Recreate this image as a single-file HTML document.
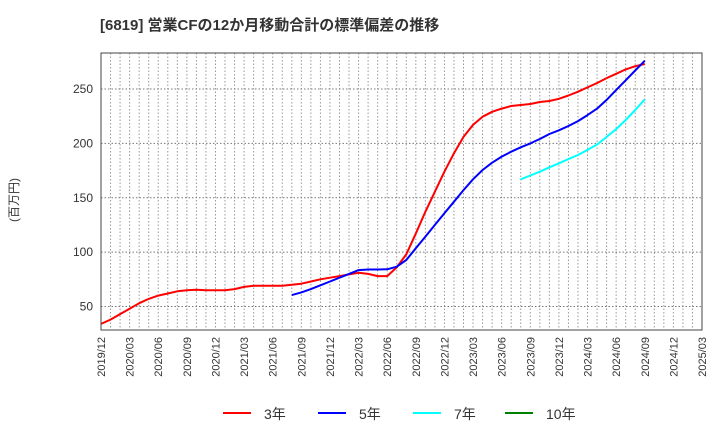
<!DOCTYPE html>
<html><head><meta charset="utf-8"><style>
body{margin:0;background:#fff;font-family:"Liberation Sans","Noto Sans CJK JP",sans-serif;}
svg text{font-family:"Liberation Sans","Noto Sans CJK JP",sans-serif;}
</style></head><body>
<svg id="chart" width="720" height="440" xmlns="http://www.w3.org/2000/svg">
<text x="100" y="30" font-size="15" font-weight="bold" fill="#333">[6819]  営業CFの12か月移動合計の標準偏差の推移</text>
<text transform="translate(18,200) rotate(-90)" text-anchor="middle" font-size="12" fill="#333">(百万円)</text>
<g id="grid"></g><g id="series"></g><g id="axes"></g>
<rect x="101" y="53" width="601" height="277" fill="none" stroke="#444" stroke-width="1"/>
<g id="legend"></g>
</svg>
<script>
const xLabels=["2019/12","2020/03","2020/06","2020/09","2020/12","2021/03","2021/06","2021/09","2021/12","2022/03","2022/06","2022/09","2022/12","2023/03","2023/06","2023/09","2023/12","2024/03","2024/06","2024/09","2024/12","2025/03"];
const yTicks=[50,100,150,200,250];
const s3Start=0;
const s3=[34,38,43,48,53,57,60,62,64,65,65.5,65,65,65,66,68,69,69,69,69,70,71,73,75,76.5,78,79.5,81,80,78,78,86,98,117,137,155.6,174,191,206,217,224.5,229,232,234.4,235.3,236.2,238,239,241,244,247.5,251.5,255.5,260,264,268,271,273];
const s5Start=20;
const s5=[60.5,63,66,69.5,73,76.5,80,83.5,84,84,84.2,86.6,92.8,103.5,114.2,125,135.7,146.4,157,167,175.5,182.2,187.8,192.3,196.4,200,204,208.6,212,216,220.5,226,232,240,249,258,267,276];
const s7Start=44;
const s7=[167,170.5,174,178,181.7,185.5,189.3,194,199,206,213,221.5,230.7,240.5];
const s10Start=0;
const s10=[];
const X0=101,X1=702,NM=63,Y0=330,Y1=53,VMIN=28.4,VMAX=283.1;
const xs=m=>X0+(X1-X0)*m/NM;
const ys=v=>Y0-(Y0-Y1)*(v-VMIN)/(VMAX-VMIN);
const NS="http://www.w3.org/2000/svg";
function mk(tag,attrs,parent){const e=document.createElementNS(NS,tag);for(const k in attrs)e.setAttribute(k,attrs[k]);parent.appendChild(e);return e;}
const grid=document.getElementById('grid'),axes=document.getElementById('axes'),series=document.getElementById('series'),legend=document.getElementById('legend');
for(let m=1;m<NM;m++){const l=mk('line',{x1:xs(m),x2:xs(m),y1:Y1,y2:Y0,stroke:'#999','stroke-dasharray':'1.5,2','stroke-width':1},grid);

}
yTicks.forEach(v=>{const l=mk('line',{x1:X0,x2:X1,y1:ys(v),y2:ys(v),stroke:'#777','stroke-dasharray':'1.5,2','stroke-width':1},grid);


const t=mk('text',{x:X0-8,y:ys(v)+4,'text-anchor':'end','font-size':12,fill:'#333'},axes);t.textContent=v;

});
xLabels.forEach((s,i)=>{const x=xs(i*3);const t=mk('text',{transform:`translate(${x+4},337) rotate(-90)`,'text-anchor':'end','font-size':11,fill:'#333'},axes);t.textContent=s;

});
function line(arr,start,color,name){if(!arr.length)return;const d=arr.map((v,i)=>(i?'L':'M')+xs(start+i).toFixed(1)+','+ys(v).toFixed(1)).join('');
const p=mk('path',{d:d,fill:'none',stroke:color,'stroke-width':2,'stroke-linejoin':'round'},series);

}
line(s3,s3Start,'#ff0000','series-3y');
line(s5,s5Start,'#0000ff','series-5y');
line(s7,s7Start,'#00ffff','series-7y');
line(s10,s10Start,'#008000','series-10y');
const leg=[['3年','#ff0000',223],['5年','#0000ff',318],['7年','#00ffff',413],['10年','#008000',505]];
leg.forEach(([lab,c,x])=>{const g=mk('g',{},legend);


mk('line',{x1:x,x2:x+28,y1:413,y2:413,stroke:c,'stroke-width':2},g);
const t=mk('text',{x:x+41,y:419,'font-size':14,fill:'#333'},g);t.textContent=lab;});
</script>
</body></html>
